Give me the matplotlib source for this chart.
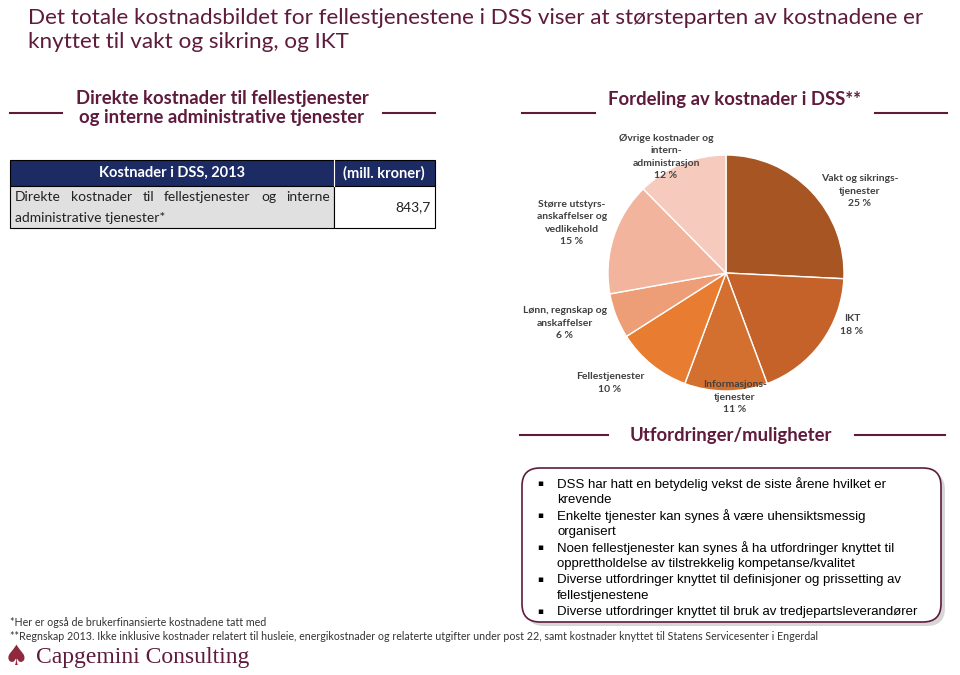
import matplotlib
matplotlib.use("Agg")
import matplotlib.pyplot as plt
from matplotlib.patches import Rectangle, FancyBboxPatch

plt.rcParams['font.family'] = ['Lato', 'DejaVu Sans']

# data
title = "Det totale kostnadsbildet for fellestjenestene i DSS viser at størsteparten av kostnadene er\nknyttet til vakt og sikring, og IKT"
slice_labels = ["Vakt og sikrings-\ntjenester", "IKT", "Informasjons-\ntjenester", "Fellestjenester",
                "Lønn, regnskap og\nanskaffelser", "Større utstyrs-\nanskaffelser og\nvedlikehold",
                "Øvrige kostnader og\nintern-\nadministrasjon"]
slice_pct = [25, 18, 11, 10, 6, 15, 12]
slice_colors = ["#A65523", "#C4622A", "#D4702F", "#E87C30", "#EE9E77", "#F2B49D", "#F6CBBE"]
table_head = ["Kostnader i DSS, 2013", "(mill. kroner)"]
table_row = ["Direkte kostnader til fellestjenester og interne", "administrative tjenester*", "843,7"]
bullets = ["DSS har hatt en betydelig vekst de siste årene hvilket er\nkrevende",
           "Enkelte tjenester kan synes å være uhensiktsmessig\norganisert",
           "Noen fellestjenester kan synes å ha utfordringer knyttet til\nopprettholdelse av tilstrekkelig kompetanse/kvalitet",
           "Diverse utfordringer knyttet til definisjoner og prissetting av\nfellestjenestene",
           "Diverse utfordringer knyttet til bruk av tredjepartsleverandører"]
notes = ["*Her er også de brukerfinansierte kostnadene tatt med",
         "**Regnskap 2013. Ikke inklusive kostnader relatert til husleie, energikostnader og relaterte utgifter under post 22, samt kostnader knyttet til Statens Servicesenter i Engerdal"]

maroon = "#5E1B3C"
navy = "#1C2B63"

fig = plt.figure(figsize=(9.6, 6.75), dpi=100)
ax = fig.add_axes([0, 0, 1, 1])
ax.set_xlim(0, 960)
ax.set_ylim(675, 0)
ax.axis("off")
ax.set_zorder(2)

ax.text(28, 30, title, fontsize=16.2, color=maroon, va="center", ha="left", linespacing=1.3)

# section headers with side lines
ax.text(222, 108, "Direkte kostnader til fellestjenester\nog interne administrative tjenester",
        fontsize=13.3, fontweight="bold", color=maroon, ha="center", va="center", linespacing=1.15)
ax.plot([10, 62], [113, 113], color=maroon, lw=1.5)
ax.plot([383, 435], [113, 113], color=maroon, lw=1.5)

ax.text(735, 100, "Fordeling av kostnader i DSS**", fontsize=13.3, fontweight="bold", color=maroon,
        ha="center", va="center")
ax.plot([522, 595], [113, 113], color=maroon, lw=1.5)
ax.plot([875, 947], [113, 113], color=maroon, lw=1.5)

ax.text(731, 435, "Utfordringer/muligheter", fontsize=13.3, fontweight="bold", color=maroon,
        ha="center", va="center")
ax.plot([520, 608], [435, 435], color=maroon, lw=1.5)
ax.plot([855, 945], [435, 435], color=maroon, lw=1.5)

# table
ax.add_patch(Rectangle((10, 160), 425, 26, facecolor=navy, edgecolor="black", lw=0.8))
ax.add_patch(Rectangle((10, 186), 324, 42, facecolor="#E0E0E0", edgecolor="black", lw=0.8))
ax.add_patch(Rectangle((334, 186), 101, 42, facecolor="white", edgecolor="black", lw=0.8))
ax.plot([334, 334], [160, 186], color="white", lw=0.8)
ax.text(172, 173, table_head[0], color="white", fontsize=10.5, fontweight="bold", ha="center", va="center")
ax.text(384, 173, table_head[1], color="white", fontsize=10.5, fontweight="bold", ha="center", va="center")

# justified first line: measure word widths, spread the gaps evenly
renderer = fig.canvas.get_renderer()
words = table_row[0].split()
texts = [ax.text(0, 197, w, fontsize=10, color="#222222", ha="left", va="center") for w in words]
widths = [t.get_window_extent(renderer).width for t in texts]
left, right = 15, 330
gap = (right - left - sum(widths)) / (len(words) - 1)
xw = left
for t, wd in zip(texts, widths):
    t.set_x(xw)
    xw += wd + gap
ax.text(15, 218, table_row[1], fontsize=10, color="#222222", ha="left", va="center")
ax.text(431, 207, table_row[2], fontsize=10, color="#222222", ha="right", va="center")

# pie
pax = fig.add_axes([608 / 960, (675 - 391) / 675, 236 / 960, 236 / 675])
pax.set_zorder(1)
pax.pie(slice_pct, colors=slice_colors, startangle=90, counterclock=False,
        wedgeprops=dict(edgecolor="white", linewidth=1))
pax.set_xlim(-1, 1)
pax.set_ylim(-1, 1)
pax.set_aspect("auto")
pax.axis("off")

label_pos = [(860, 191), (852, 325), (735, 397), (610, 383), (565, 323), (572, 223), (666, 157)]
for lab, p, (lx, ly) in zip(slice_labels, slice_pct, label_pos):
    ax.text(lx, ly, f"{lab}\n{p} %", fontsize=7.5, fontweight="bold", color="#404040",
            ha="center", va="center", linespacing=1.45, zorder=5)

# bullet box
ax.add_patch(FancyBboxPatch((526, 472), 419, 154, boxstyle="round,pad=0,rounding_size=18",
                            facecolor="#BBBBBB", edgecolor="none", alpha=0.6, zorder=1))
ax.add_patch(FancyBboxPatch((522, 468), 419, 154, boxstyle="round,pad=0,rounding_size=18",
                            facecolor="white", edgecolor=maroon, lw=1.2, zorder=2))
y = 484
for b in bullets:
    ax.text(540, y, "\u25aa", fontsize=6.5, color="black", ha="center", va="center", family="DejaVu Sans", zorder=3)
    for line in b.split("\n"):
        ax.text(557, y, line, fontsize=9.5, color="black", ha="left", va="center",
                family="Liberation Sans", zorder=3)
        y += 16

# footnotes
ax.text(10, 622, notes[0], fontsize=7.7, color="#333333", ha="left", va="center")
ax.text(10, 636, notes[1], fontsize=7.7, color="#333333", ha="left", va="center")

# logo
ax.text(4, 657, "\u2660", fontsize=20, color="#8E2A3B", ha="left", va="center", family="DejaVu Sans")
ax.text(36, 657, "Capgemini Consulting", fontsize=17, color=maroon, ha="left", va="center",
        family="Liberation Serif")

fig.savefig("out.png", dpi=100)
